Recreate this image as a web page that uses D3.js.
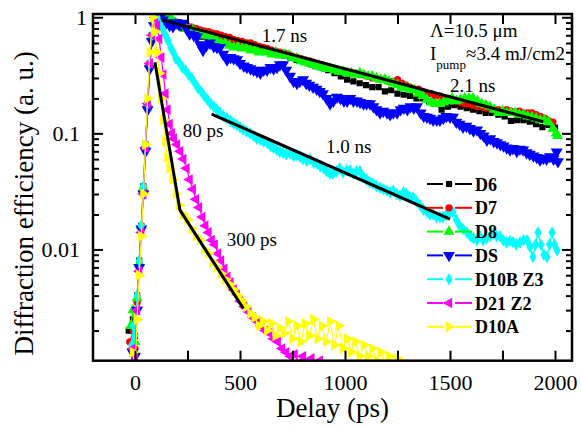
<!DOCTYPE html>
<html>
<head>
<meta charset="utf-8">
<script src="https://cdn.jsdelivr.net/npm/d3@7"></script>
<style>
	body { margin: 0; background: #fff; }
</style>
</head>
<body>
<div id="chart"></div>
<script>
// data: [delay in ps, diffraction efficiency]
const D6 = [[-30,0.002],[-10,0.0025],[0,0.0018],[10,0.004],[20,0.008],[30,0.016],[40,0.035],[50,0.08],[60,0.18],[70,0.4],[80,0.7],[95,0.92],[110,1.0],[125,0.97],
	[150,0.93],[175,0.87],[200,0.84],[230,0.8],[260,0.74],[290,0.7],[320,0.68],[350,0.66],[380,0.64],[410,0.63],[440,0.6],[470,0.6],[500,0.58],[530,0.6],[560,0.55],[590,0.55],
	[620,0.53],[650,0.5],[680,0.48],[710,0.47],[740,0.45],[770,0.43],[800,0.42],[830,0.4],[860,0.38],[890,0.37],[920,0.35],[950,0.33],[980,0.31],[1010,0.29],[1040,0.28],
	[1070,0.27],[1100,0.26],[1130,0.25],[1160,0.25],[1190,0.23],[1220,0.235],[1250,0.22],[1280,0.215],[1310,0.21],[1340,0.2],[1370,0.2],[1400,0.19],[1430,0.18],[1460,0.16],
	[1490,0.17],[1520,0.175],[1550,0.17],[1580,0.165],[1610,0.16],[1640,0.155],[1670,0.15],[1700,0.15],[1730,0.145],[1760,0.14],[1790,0.128],[1820,0.13],[1850,0.13],
	[1880,0.126],[1910,0.12],[1940,0.113],[1970,0.118],[2000,0.112]];
const D7 = [[-25,0.0016],[-8,0.002],[0,0.0014],[10,0.0035],[20,0.007],[30,0.015],[40,0.032],[50,0.075],[60,0.17],[70,0.38],[80,0.66],[95,0.9],[110,0.97],[125,1.0],[140,0.98],
	[155,1.0],[170,0.97],[185,0.93],[200,0.9],[215,0.9],[230,0.88],[250,0.84],[270,0.82],[290,0.8],[310,0.78],[330,0.76],[350,0.75],[370,0.73],[390,0.72],[410,0.7],
	[430,0.68],[450,0.67],[470,0.64],[490,0.63],[510,0.62],[530,0.6],[550,0.6],[570,0.58],[590,0.56],[610,0.55],[630,0.54],[650,0.52],[670,0.51],[690,0.5],[710,0.49],
	[730,0.48],[750,0.46],[770,0.45],[790,0.44],[810,0.43],[830,0.42],[850,0.41],[870,0.4],[890,0.39],[910,0.38],[930,0.37],[950,0.36],[970,0.35],[990,0.34],[1010,0.34],
	[1030,0.33],[1050,0.33],[1070,0.32],[1090,0.32],[1110,0.31],[1130,0.3],[1150,0.3],[1170,0.29],[1190,0.29],[1210,0.28],[1230,0.28],[1250,0.29],[1270,0.27],[1290,0.26],
	[1310,0.25],[1330,0.24],[1350,0.24],[1370,0.23],[1390,0.22],[1410,0.22],[1430,0.21],[1450,0.21],[1470,0.2],[1490,0.2],[1510,0.19],[1530,0.19],[1550,0.185],[1570,0.18],
	[1590,0.18],[1610,0.175],[1630,0.17],[1650,0.17],[1670,0.165],[1690,0.165],[1710,0.16],[1730,0.16],[1750,0.155],[1770,0.16],[1790,0.155],[1810,0.15],[1830,0.155],
	[1850,0.15],[1870,0.15],[1890,0.15],[1910,0.145],[1930,0.14],[1950,0.135],[1970,0.128],[1990,0.125]];
const D8 = [[-20,0.0022],[-10,0.003],[0,0.0016],[10,0.0038],[20,0.0075],[30,0.016],[40,0.034],[50,0.078],[60,0.18],[70,0.4],[80,0.68],[95,0.9],[110,0.95],[125,1.0],[140,0.97],
	[155,0.98],[170,1.0],[185,0.9],[200,0.88],[215,0.85],[230,0.84],[245,0.8],[260,0.78],[275,0.78],[290,0.74],[310,0.72],[330,0.7],[350,0.69],[370,0.66],[390,0.63],
	[410,0.6],[430,0.6],[450,0.57],[470,0.55],[490,0.56],[510,0.54],[530,0.55],[550,0.52],[570,0.53],[590,0.5],[610,0.51],[630,0.5],[650,0.48],[670,0.5],[690,0.47],
	[710,0.48],[730,0.47],[750,0.45],[770,0.44],[790,0.42],[810,0.41],[830,0.4],[850,0.39],[870,0.38],[890,0.37],[910,0.36],[930,0.36],[950,0.35],[970,0.34],[990,0.34],
	[1010,0.33],[1030,0.33],[1050,0.32],[1070,0.33],[1090,0.32],[1110,0.31],[1130,0.31],[1150,0.3],[1170,0.29],[1190,0.29],[1210,0.28],[1230,0.27],[1250,0.26],[1270,0.25],
	[1290,0.245],[1310,0.24],[1330,0.235],[1350,0.22],[1370,0.21],[1390,0.195],[1410,0.185],[1430,0.18],[1450,0.18],[1470,0.185],[1490,0.19],[1510,0.2],[1530,0.19],
	[1550,0.195],[1570,0.2],[1590,0.2],[1610,0.2],[1630,0.19],[1650,0.18],[1670,0.175],[1690,0.17],[1710,0.16],[1730,0.15],[1750,0.155],[1770,0.15],[1790,0.15],
	[1810,0.15],[1830,0.145],[1850,0.145],[1870,0.14],[1890,0.138],[1910,0.135],[1930,0.13],[1950,0.13],[1970,0.125],[1990,0.11],[2005,0.1],[2012,0.095]];
const DS = [[-20,0.0009],[-12,0.0013],[0,0.0012],[10,0.003],[20,0.007],[30,0.015],[40,0.03],[50,0.07],[60,0.16],[70,0.36],[80,0.62],[90,0.85],[105,0.97],[120,1.0],
	[133,0.95],[150,0.9],[165,0.85],[181,0.83],[195,0.9],[210,0.86],[229,0.89],[245,0.8],[260,0.72],[280,0.7],[295,0.68],[310,0.58],[324,0.52],[340,0.57],[357,0.6],
	[375,0.56],[390,0.55],[405,0.55],[420,0.48],[438,0.43],[455,0.45],[470,0.44],[486,0.43],[500,0.4],[518,0.38],[533,0.37],[550,0.36],[565,0.35],[581,0.34],[597,0.33],
	[613,0.35],[629,0.35],[645,0.37],[660,0.36],[676,0.37],[690,0.39],[705,0.39],[720,0.35],[738,0.31],[755,0.28],[771,0.27],[785,0.28],[800,0.29],[815,0.27],[830,0.26],
	[848,0.25],[865,0.24],[880,0.23],[895,0.22],[912,0.2],[929,0.18],[945,0.19],[962,0.205],[978,0.2],[995,0.19],[1010,0.19],[1025,0.2],[1040,0.19],[1057,0.19],
	[1072,0.185],[1088,0.18],[1103,0.18],[1119,0.18],[1135,0.17],[1150,0.16],[1167,0.15],[1182,0.155],[1200,0.15],[1215,0.145],[1230,0.15],[1248,0.15],[1265,0.16],
	[1280,0.165],[1297,0.16],[1312,0.17],[1328,0.165],[1343,0.17],[1360,0.15],[1375,0.14],[1390,0.138],[1405,0.135],[1420,0.13],[1437,0.13],[1452,0.13],[1468,0.135],
	[1483,0.14],[1500,0.138],[1514,0.138],[1530,0.125],[1546,0.12],[1562,0.113],[1578,0.115],[1595,0.11],[1612,0.105],[1629,0.107],[1645,0.1],[1660,0.095],[1676,0.0875],
	[1692,0.09],[1708,0.085],[1724,0.083],[1740,0.08],[1755,0.078],[1770,0.075],[1786,0.072],[1800,0.074],[1818,0.07],[1833,0.073],[1848,0.072],[1865,0.068],[1880,0.066],
	[1897,0.064],[1913,0.062],[1929,0.059],[1945,0.061],[1960,0.06],[1976,0.063],[1993,0.06],[2008,0.069],[2014,0.057]];
const D10B = [[-15,0.0015],[-8,0.0022],[0,0.0018],[10,0.004],[20,0.008],[30,0.016],[40,0.035],[50,0.08],[60,0.18],[70,0.4],[80,0.7],[92,0.92],[105,1.0],[118,0.88],
	[133,0.78],[145,0.7],[157,0.63],[170,0.55],[182,0.5],[195,0.44],[210,0.41],[225,0.37],[240,0.35],[255,0.32],[270,0.3],[285,0.27],[300,0.245],[315,0.23],[330,0.21],
	[345,0.195],[360,0.18],[375,0.17],[390,0.16],[405,0.15],[420,0.142],[438,0.135],[455,0.128],[470,0.122],[485,0.118],[500,0.113],[515,0.108],[530,0.104],[548,0.1],
	[565,0.095],[580,0.09],[597,0.088],[613,0.085],[629,0.083],[645,0.078],[660,0.075],[676,0.072],[690,0.069],[705,0.068],[720,0.066],[738,0.067],[755,0.064],[770,0.065],
	[786,0.063],[800,0.06],[818,0.058],[833,0.06],[850,0.056],[867,0.055],[882,0.052],[898,0.05],[913,0.047],[929,0.045],[943,0.045],[960,0.047],[975,0.05],[990,0.046],
	[1008,0.048],[1024,0.048],[1040,0.045],[1055,0.047],[1071,0.047],[1087,0.042],[1103,0.04],[1118,0.038],[1133,0.037],[1150,0.035],[1167,0.034],[1183,0.033],[1200,0.032],
	[1215,0.031],[1230,0.032],[1246,0.03],[1262,0.029],[1278,0.031],[1293,0.03],[1309,0.028],[1324,0.028],[1340,0.026],[1357,0.024],[1373,0.022],[1390,0.021],[1405,0.02],
	[1420,0.02],[1436,0.019],[1452,0.019],[1467,0.019],[1483,0.02],[1500,0.021],[1514,0.021],[1530,0.018],[1546,0.016],[1562,0.015],[1581,0.014],[1597,0.013],[1612,0.0125],
	[1628,0.012],[1643,0.013],[1657,0.012],[1673,0.0125],[1690,0.013],[1705,0.0135],[1722,0.013],[1738,0.013],[1753,0.012],[1770,0.0115],[1785,0.0118],[1800,0.0116],
	[1816,0.011],[1833,0.0115],[1850,0.012],[1867,0.012],[1881,0.0105],[1895,0.0086],[1907,0.011],[1919,0.014],[1933,0.011],[1947,0.009],[1962,0.0086],[1974,0.011],
	[1986,0.014],[1998,0.011],[2010,0.0098]];
const D21 = [[-10,0.0014],[0,0.0012],[10,0.003],[20,0.0065],[30,0.014],[40,0.03],[50,0.075],[60,0.18],[70,0.4],[80,0.7],[95,1.0],[105,0.85],[115,0.65],[125,0.45],
	[135,0.32],[145,0.22],[155,0.16],[165,0.12],[175,0.1],[185,0.09],[200,0.08],[215,0.07],[230,0.06],[245,0.05],[260,0.04],[275,0.033],[290,0.027],[305,0.023],[320,0.019],
	[335,0.016],[350,0.014],[365,0.012],[380,0.011],[395,0.0092],[410,0.008],[425,0.0068],[440,0.0058],[455,0.0052],[470,0.0045],[485,0.0041],[500,0.0036],[520,0.0032],
	[540,0.0029],[560,0.0026],[580,0.0024],[600,0.0022],[620,0.002],[640,0.0019],[660,0.0017],[680,0.0016],[700,0.0014],[720,0.0013],[740,0.0012],[760,0.00125],
	[780,0.00105],[800,0.0012],[820,0.001],[840,0.00115],[860,0.00095],[880,0.0011],[900,0.0009]];
const D10A = [[-10,0.0013],[0,0.0009],[10,0.0025],[20,0.006],[30,0.013],[40,0.03],[50,0.08],[60,0.2],[70,0.5],[85,1.0],[95,0.75],[105,0.5],[115,0.33],[125,0.2],
	[135,0.13],[145,0.085],[155,0.062],[165,0.05],[180,0.04],[195,0.03],[210,0.024],[230,0.02],[250,0.018],[270,0.015],[290,0.013],[310,0.012],[330,0.01],[350,0.0092],
	[370,0.0078],[390,0.007],[410,0.0062],[430,0.0055],[450,0.005],[470,0.0045],[490,0.004],[510,0.0036],[530,0.0032],[550,0.0028],[570,0.0026],[590,0.0022],[610,0.0024],
	[630,0.002],[650,0.0023],[670,0.0018],[690,0.0021],[710,0.0019],[730,0.0024],[750,0.0017],[770,0.0022],[790,0.0016],[810,0.0023],[830,0.0018],[850,0.0025],[870,0.0017],
	[890,0.0022],[910,0.0016],[930,0.0024],[950,0.0015],[970,0.0022],[990,0.0014],[1010,0.0017],[1030,0.0013],[1050,0.0016],[1070,0.0012],[1090,0.0015],[1110,0.0012],
	[1130,0.0014],[1150,0.0011],[1170,0.0013],[1190,0.001],[1210,0.0012],[1230,0.0009],[1250,0.00115],[1270,0.0008]];

const seriesNames = ["D6", "D7", "D8", "DS", "D10B Z3", "D21 Z2", "D10A"];
const seriesData = [D6, D7, D8, DS, D10B, D21, D10A];

// exponential fits (straight on the log axis)
const fit80ps300ps = [[95,0.41],[214,0.0218],[516,0.0031]];
const fit17ns = [[127,0.95],[1944,0.126]];
const fit10ns = [[365,0.1466],[1500,0.0182]];

// annotations: [delay, efficiency, text]
const notes = [[603,0.616,"1.7 ns"],[1500,0.228,"2.1 ns"],[910,0.0673,"1.0 ns"],[227,0.0924,"80 ps"],[437,0.0107,"300 ps"],[1405,0.68,"\u039B=10.5 \u03BCm"]];

const xTicks = [0, 250, 500, 750, 1000, 1250, 1500, 1750, 2000];
const yMajor = [0.01, 0.1, 1];

// layout
const W = 581, H = 429;
const mLeft = 93, mTop = 14, mRight = 572, mBottom = 360.7;
const serif = "Liberation Serif";

const svg = d3.select("#chart").append("svg").attr("width", W).attr("height", H);

const x = d3.scaleLinear().domain([-200, 2081]).range([mLeft, mRight]);
const y = d3.scaleLog().domain([0.0011, 1.067]).range([mBottom, mTop]);

const colors = ["#000000", "#ff0000", "#00ff00", "#0000ff", "#00ffff", "#ff00ff", "#ffff00"];
const shapes = [d3.symbolSquare, d3.symbolCircle, d3.symbolTriangle, d3.symbolTriangle, d3.symbolDiamond, d3.symbolTriangle, d3.symbolTriangle];
const sizes = [38, 42, 52, 62, 46, 50, 52];
const rotations = [0, 0, 0, 180, 0, -90, 90];

svg.append("clipPath").attr("id", "plotclip")
	.append("rect").attr("x", mLeft).attr("y", mTop).attr("width", mRight - mLeft).attr("height", mBottom - mTop);

const plot = svg.append("g").attr("clip-path", "url(#plotclip)");

const line = d3.line().x((d) => x(d[0])).y((d) => y(d[1]));

// series: thin line + markers
seriesData.forEach(function (data, i) {
	const g = plot.append("g");
	g.append("path").attr("d", line(data)).attr("fill", "none").attr("stroke", colors[i]).attr("stroke-width", 1.2);
	g.selectAll("path.m")
		.data(data)
		.join("path")
		.attr("class", "m")
		.attr("d", d3.symbol().type(shapes[i]).size(sizes[i]))
		.attr("transform", (d) => `translate(${x(d[0])},${y(d[1])}) rotate(${rotations[i]})`)
		.attr("fill", colors[i]);
});

// fit lines on top
[fit80ps300ps, fit17ns, fit10ns].forEach(function (f) {
	plot.append("path").attr("d", line(f)).attr("fill", "none").attr("stroke", "#000").attr("stroke-width", 3);
});

// axes (ticks pointing inward)
svg.append("g").attr("transform", `translate(0,${mBottom})`)
	.call(d3.axisBottom(x).tickValues(xTicks).tickSizeInner(-10).tickSizeOuter(0).tickPadding(14)
		.tickFormat((d) => (d % 500 === 0 ? d : "")));
svg.append("g").attr("transform", `translate(0,${mTop})`)
	.call(d3.axisTop(x).tickValues(xTicks).tickSizeInner(-10).tickSizeOuter(0).tickFormat(""));

const yMinor = y.ticks().filter((v) => !yMajor.some((m) => Math.abs(m - v) < 1e-9));
const yAxisL = svg.append("g").attr("transform", `translate(${mLeft},0)`)
	.call(d3.axisLeft(y).tickValues(yMajor).tickSizeInner(-10).tickSizeOuter(0).tickPadding(13).tickFormat((d) => d));
svg.append("g").attr("transform", `translate(${mLeft},0)`)
	.call(d3.axisLeft(y).tickValues(yMinor).tickSizeInner(-6).tickSizeOuter(0).tickFormat(""));
svg.append("g").attr("transform", `translate(${mRight},0)`)
	.call(d3.axisRight(y).tickValues(yMajor).tickSizeInner(-10).tickSizeOuter(0).tickFormat(""));
svg.append("g").attr("transform", `translate(${mRight},0)`)
	.call(d3.axisRight(y).tickValues(yMinor).tickSizeInner(-6).tickSizeOuter(0).tickFormat(""));

svg.selectAll(".domain").remove();
svg.selectAll(".tick line").attr("stroke", "#000").attr("stroke-width", 2);
svg.selectAll(".tick text").attr("font-family", serif).attr("font-size", 22).attr("fill", "#000");
// the "1" label sits closer to the axis in the original
yAxisL.selectAll(".tick").filter((d) => d === 1).select("text").attr("dx", 7);

// frame
svg.append("rect").attr("x", mLeft).attr("y", mTop).attr("width", mRight - mLeft).attr("height", mBottom - mTop)
	.attr("fill", "none").attr("stroke", "#000").attr("stroke-width", 2.5);

// axis titles
svg.append("text").attr("x", (mLeft + mRight) / 2).attr("y", 417).attr("text-anchor", "middle")
	.attr("font-family", serif).attr("font-size", 27).text("Delay (ps)");
svg.append("text").attr("transform", `translate(33,${(mTop + mBottom) / 2 + 16}) rotate(-90)`).attr("text-anchor", "middle")
	.attr("font-family", serif).attr("font-size", 27).text("Diffraction efficiency (a. u.)");

// annotations
notes.forEach(function (n) {
	svg.append("text").attr("x", x(n[0])).attr("y", y(n[1])).attr("font-family", serif).attr("font-size", 19).text(n[2]);
});
const pump = svg.append("text").attr("x", x(1405)).attr("y", y(0.428)).attr("font-family", serif).attr("font-size", 19);
pump.append("tspan").text("I");
pump.append("tspan").attr("dy", 9).attr("font-size", 13).text("pump");
pump.append("tspan").attr("dy", -9).text("\u22483.4 mJ/cm2");

// legend
const legend = svg.append("g");
seriesNames.forEach(function (name, i) {
	const cy = 184 + i * 23.8;
	legend.append("line").attr("x1", 427).attr("x2", 443).attr("y1", cy).attr("y2", cy).attr("stroke", colors[i]).attr("stroke-width", 2);
	legend.append("line").attr("x1", 455).attr("x2", 472).attr("y1", cy).attr("y2", cy).attr("stroke", colors[i]).attr("stroke-width", 2);
	legend.append("path")
		.attr("d", d3.symbol().type(shapes[i]).size(sizes[i]))
		.attr("transform", `translate(449,${cy}) rotate(${rotations[i]})`)
		.attr("fill", colors[i]);
	legend.append("text").attr("x", 475).attr("y", cy + 6.5).attr("font-family", serif)
		.attr("font-size", 18).attr("font-weight", "bold").text(name);
});
</script>
</body>
</html>
